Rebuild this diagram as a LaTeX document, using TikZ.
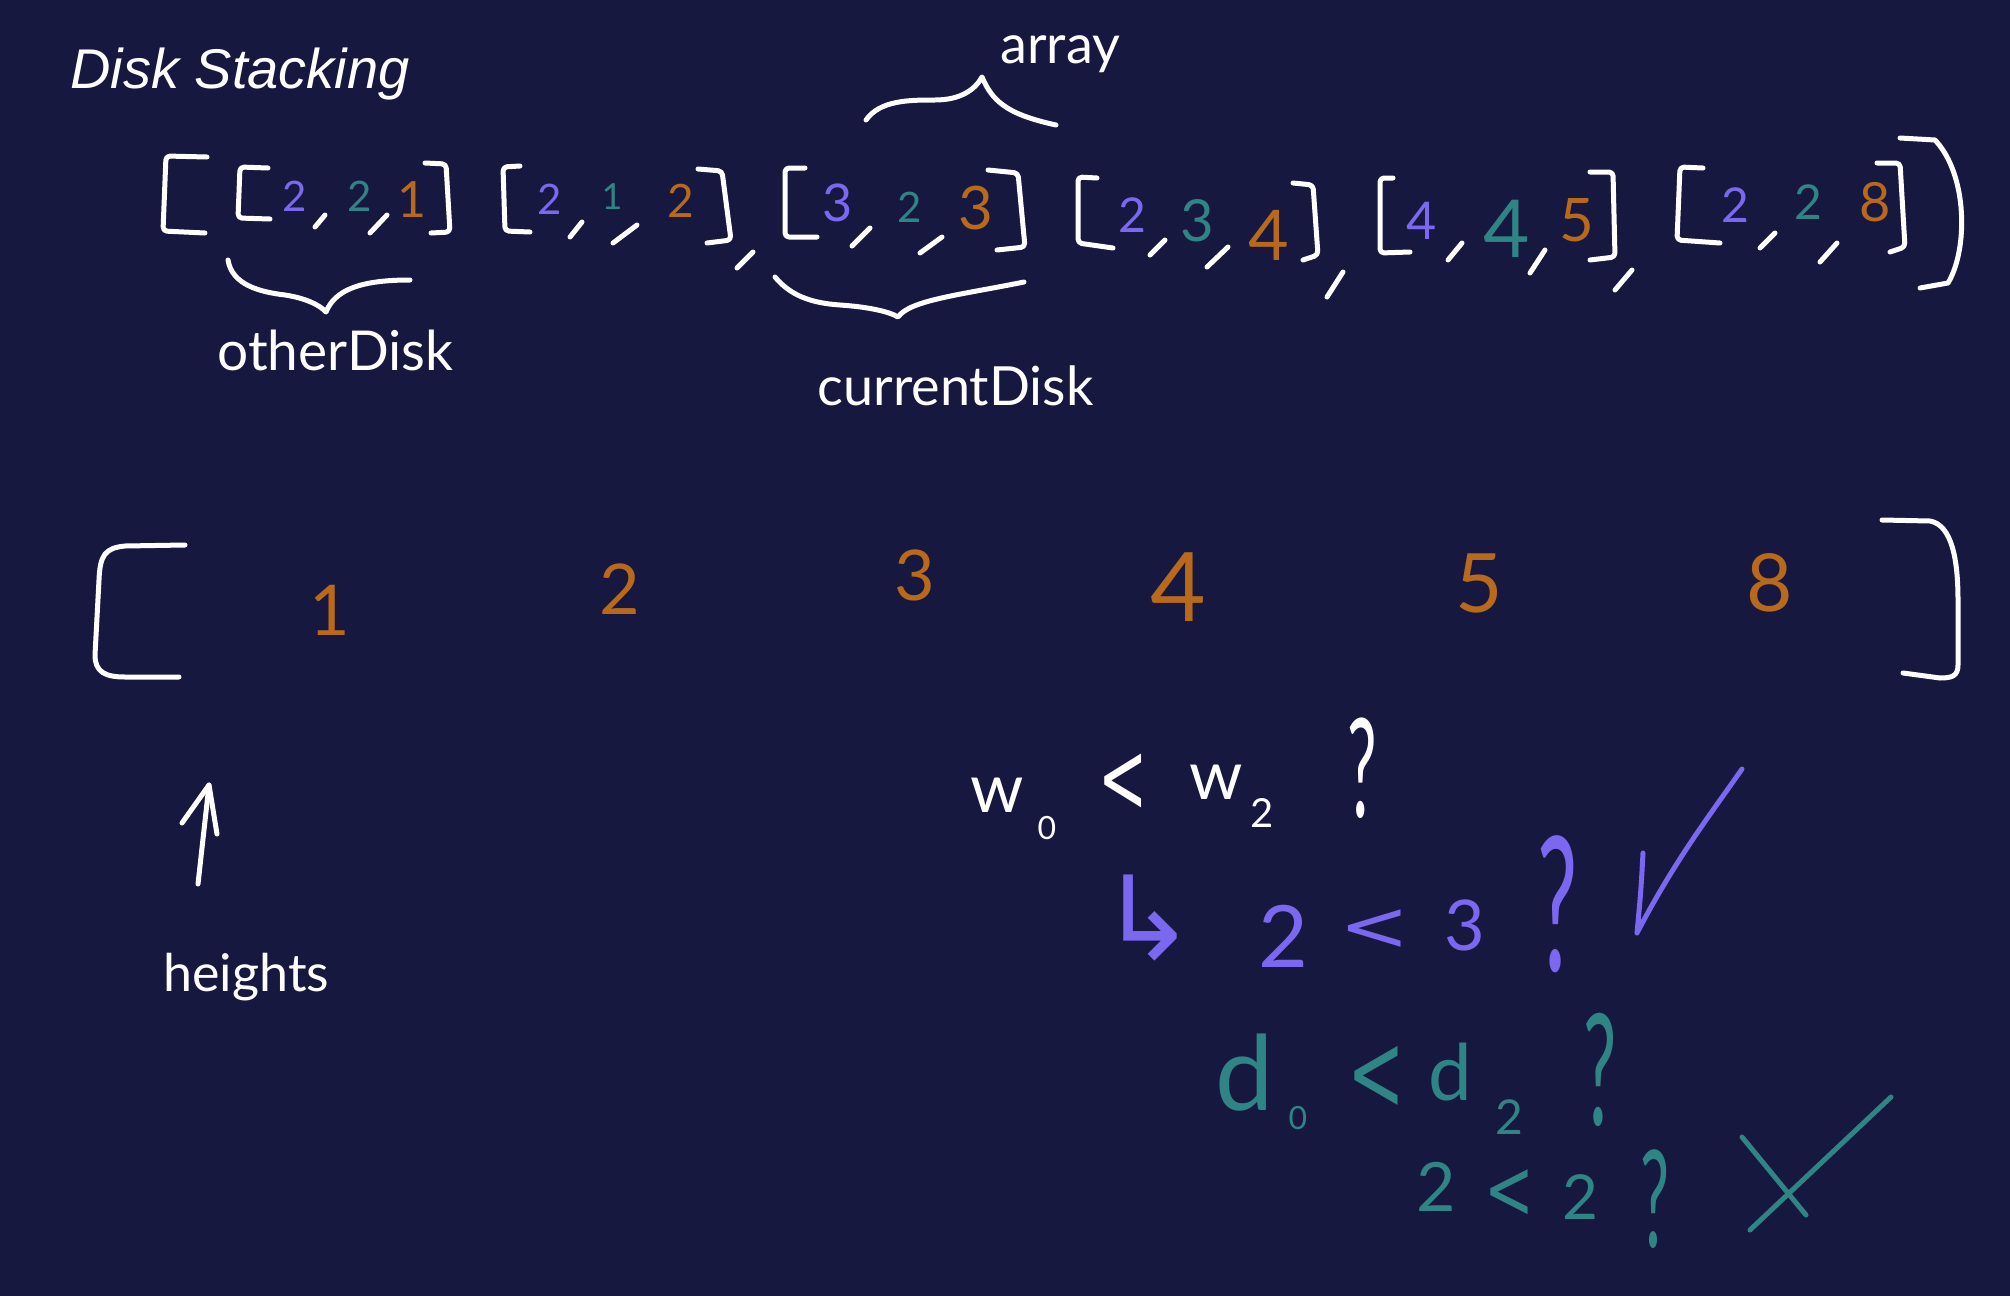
\documentclass[tikz,border=0pt]{standalone}
\usepackage{fontspec}
\usepackage{graphicx}
\setmainfont{Lato}
\newfontfamily\titlefont{Liberation Sans}
\newfontfamily\symfont{DejaVu Sans}
\definecolor{bg}{HTML}{171840}
\definecolor{hwpurple}{HTML}{7B68F0}
\definecolor{hwteal}{HTML}{2F8585}
\definecolor{hworange}{HTML}{B8691C}
\newcommand{\hwsize}[1]{\fontsize{#1}{#1}\selectfont}
\newcommand{\hwq}[1]{\scalebox{0.6}[1.25]{\hwsize{#1}?}}
\newcommand{\hwlt}[3]{\scalebox{#1}[#2]{\symfont\hwsize{#3}<}}
\begin{document}
\begin{tikzpicture}[x=0.5pt,y=-0.5pt,
  pen/.style={draw=#1, line width=2.5pt, line cap=round, line join=round},
  pen/.default=white,
  brk/.style={pen, rounded corners=2pt},
  hw/.style={text=#1, inner sep=0pt, outer sep=0pt},
  hw/.default=white,
  lbl/.style={text=white, inner sep=0pt, anchor=base west}]
\useasboundingbox (0,0) rectangle (2010,1296);
\fill[bg] (0,0) rectangle (2010,1296);

% title
\node[lbl, font=\titlefont\itshape\hwsize{28pt}] (title) at (70,88) {Disk Stacking};

% array brace + label
\node[lbl, font=\hwsize{27pt}] (lblarray) at (1000,63) {array};
\draw[pen] (866,120) .. controls (880,100) and (910,100) .. (935,100)
  .. controls (960,100) and (975,90) .. (982,77)
  .. controls (992,100) and (1005,114) .. (1056,125);

% outer brackets
\draw[brk] (207,157) -- (166,156) -- (163,231) -- (205,233);
\draw[pen] (1900,138) -- (1935,140) .. controls (1968,175) and (1968,250) .. (1948,283) -- (1920,288);

% group 1
\draw[brk] (268,168) -- (240,167) -- (238,218) -- (270,219);
\draw[brk] (425,163) -- (446,164) -- (450,232) -- (431,233);
\node[hw=hwpurple, font=\hwsize{21pt}] (g1a) at (295,196) {2};
\node[hw=hwteal, font=\hwsize{21pt}] (g1b) at (360,196) {2};
\node[hw=hworange, font=\hwsize{25pt}] (g1c) at (412,200) {1};
\draw[pen] (325,215) -- (315,227);
\draw[pen] (387,215) -- (370,233);

% group 2
\draw[brk] (520,166) -- (503,167) -- (505,231) -- (530,232);
\draw[brk] (698,169) -- (722,171) -- (731,240) -- (707,243);
\node[hw=hwpurple, font=\hwsize{21pt}] (g2a) at (550,199) {2};
\node[hw=hwteal, font=\hwsize{18pt}] (g2b) at (612,197) {1};
\node[hw=hworange, font=\hwsize{23pt}] (g2c) at (681,201) {2};
\draw[pen] (582,222) -- (570,237);
\draw[pen] (637,225) -- (613,243);
\draw[pen] (753,252) -- (737,268);

% group 3
\draw[brk] (805,168) -- (785,168) -- (785,237) -- (817,237);
\draw[brk] (988,170) -- (1018,173) -- (1025,247) -- (997,250);
\node[hw=hwpurple, font=\hwsize{26pt}] (g3a) at (838,203) {3};
\node[hw=hwteal, font=\hwsize{21pt}] (g3b) at (910,207) {2};
\node[hw=hworange, font=\hwsize{30pt}] (g3c) at (976,208) {3};
\draw[pen] (870,228) -- (852,246);
\draw[pen] (942,237) -- (920,253);

% group 4
\draw[brk] (1097,178) -- (1078,177) -- (1078,243) -- (1113,248);
\draw[brk] (1293,183) -- (1313,185) -- (1318,255) -- (1303,260);
\node[hw=hwpurple, font=\hwsize{24pt}] (g4a) at (1132,215) {2};
\node[hw=hwteal, font=\hwsize{29pt}] (g4b) at (1197,221) {3};
\node[hw=hworange, font=\hwsize{35pt}] (g4c) at (1269,235) {4};
\draw[pen] (1165,240) -- (1150,255);
\draw[pen] (1228,247) -- (1207,267);
\draw[pen] (1343,272) -- (1327,297);

% group 5
\draw[brk] (1393,178) -- (1380,178) -- (1380,253) -- (1410,252);
\draw[brk] (1590,172) -- (1613,172) -- (1615,257) -- (1590,260);
\node[hw=hwpurple, font=\hwsize{26pt}] (g5a) at (1422,221) {4};
\node[hw=hwteal, font=\hwsize{40pt}] (g5b) at (1507,229) {4};
\node[hw=hworange, font=\hwsize{30pt}] (g5c) at (1577,220) {5};
\draw[pen] (1462,243) -- (1448,260);
\draw[pen] (1545,250) -- (1530,273);
\draw[pen] (1632,270) -- (1615,290);

% group 6
\draw[brk] (1703,168) -- (1680,167) -- (1677,240) -- (1720,243);
\draw[brk] (1877,163) -- (1900,163) -- (1905,247) -- (1890,252);
\node[hw=hwpurple, font=\hwsize{24pt}] (g6a) at (1735,205) {2};
\node[hw=hwteal, font=\hwsize{24pt}] (g6b) at (1808,202) {2};
\node[hw=hworange, font=\hwsize{27pt}] (g6c) at (1875,202) {8};
\draw[pen] (1775,233) -- (1760,248);
\draw[pen] (1837,243) -- (1820,262);

% otherDisk brace + label
\draw[pen] (228,260) .. controls (232,285) and (260,292) .. (285,295)
  .. controls (305,298) and (320,305) .. (326,312)
  .. controls (335,290) and (360,280) .. (410,280);
\node[lbl, font=\hwsize{27.5pt}] (lblother) at (217,370) {otherDisk};

% currentDisk brace + label
\draw[pen] (775,277) .. controls (790,295) and (810,303) .. (840,305)
  .. controls (870,307) and (890,312) .. (898,317)
  .. controls (910,300) and (960,295) .. (1024,282);
\node[lbl, font=\hwsize{27pt}] (lblcurrent) at (817,405) {currentDisk};

% heights array
\draw[pen] (185,545) -- (125,546) .. controls (105,548) and (100,555) .. (99,580)
  -- (95,655) .. controls (95,672) and (105,677) .. (125,677) -- (179,677);
\draw[pen] (1882,520) -- (1930,521) .. controls (1952,525) and (1958,560) .. (1958,600)
  -- (1958,665) .. controls (1958,676) and (1952,678) .. (1940,678) -- (1903,673);
\node[hw=hworange, font=\hwsize{35pt}] (h1) at (330,610) {1};
\node[hw=hworange, font=\hwsize{35pt}] (h2) at (620,589) {2};
\node[hw=hworange, font=\hwsize{35pt}] (h3) at (915,575) {3};
\node[hw=hworange, font=\hwsize{48pt}] (h4) at (1178,587) {4};
\node[hw=hworange, font=\hwsize{41pt}] (h5) at (1479,583) {5};
\node[hw=hworange, font=\hwsize{40pt}] (h8) at (1770,583) {8};

% heights label + arrow
\node[lbl, font=\hwsize{26pt}] (lblheights) at (163,991) {heights};
\coordinate (htail) at (198,884);
\coordinate (htip) at (209,785);
\draw[pen] (htail) -- (htip);
\draw[pen] ([shift={(-27,38)}]htip) -- (htip) -- ([shift={(8,49)}]htip);

% w0 < w2 ?
\node[hw, font=\hwsize{34pt}] (w0) at (997,795) {w};
\node[hw, font=\hwsize{16pt}] (w0s) at (1047,828) {0};
\node[hw] (wlt) at (1123,783) {\hwlt{0.7}{1.2}{42pt}};
\node[hw, font=\hwsize{34pt}] (w2) at (1216,782) {w};
\node[hw, font=\hwsize{20pt}] (w2s) at (1262,813) {2};
\node[hw] (wq) at (1362,768) {\hwq{55pt}};

% purple line
\node[hw=hwpurple, font=\symfont\hwsize{58pt}] (parr) at (1148,918) {↳};
\node[hw=hwpurple, font=\hwsize{43pt}] (p2) at (1283,936) {2};
\node[hw=hwpurple] (plt) at (1375,930) {\hwlt{1.2}{1}{35pt}};
\node[hw=hwpurple, font=\hwsize{35pt}] (p3) at (1465,925) {3};
\node[hw=hwpurple] (pq) at (1558,904) {\hwq{75pt}};
\coordinate (ck1) at (1643,853);
\coordinate (ck2) at (1637,933);
\coordinate (ck3) at (1742,769);
\draw[pen=hwpurple] (ck1) .. controls (1641,890) .. (ck2)
  .. controls (1675,860) and (1710,815) .. (ck3);

% d0 < d2 ?
\node[hw=hwteal, font=\hwsize{52pt}] (d0) at (1245,1073) {d};
\node[hw=hwteal, font=\hwsize{16pt}] (d0s) at (1298,1118) {0};
\node[hw=hwteal] (dlt) at (1376,1078) {\hwlt{0.75}{1.2}{46pt}};
\node[hw=hwteal, font=\hwsize{39pt}] (d2) at (1450,1072) {d};
\node[hw=hwteal, font=\hwsize{24pt}] (d2s) at (1509,1117) {2};
\node[hw=hwteal] (dq) at (1600,1070) {\hwq{62pt}};

% 2 < 2 ?
\node[hw=hwteal, font=\hwsize{34pt}] (t2a) at (1436,1187) {2};
\node[hw=hwteal] (tlt) at (1509,1194) {\hwlt{0.85}{1.2}{35pt}};
\node[hw=hwteal, font=\hwsize{31pt}] (t2b) at (1580,1197) {2};
\node[hw=hwteal] (tq) at (1655,1199) {\hwq{54pt}};
\coordinate (xa1) at (1750,1230);
\coordinate (xa2) at (1891,1097);
\coordinate (xb1) at (1742,1137);
\coordinate (xb2) at (1806,1215);
\draw[pen=hwteal] (xa1) -- (xa2);
\draw[pen=hwteal] (xb1) -- (xb2);
\end{tikzpicture}
\end{document}
